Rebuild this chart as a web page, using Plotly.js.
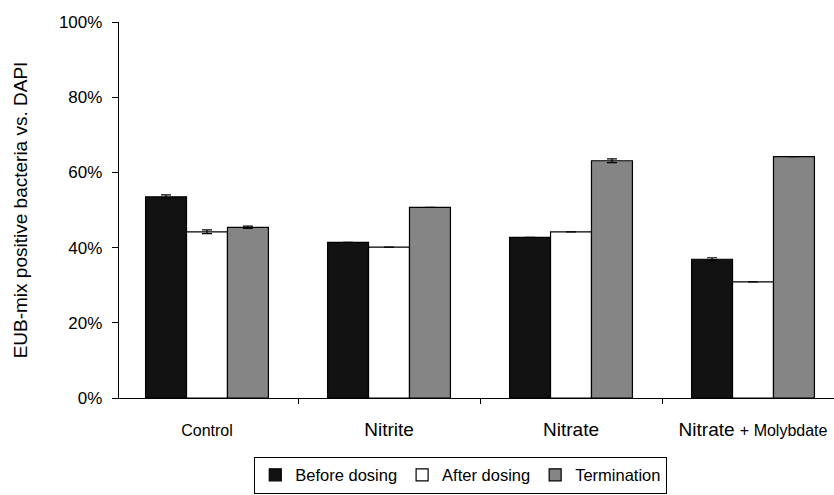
<!DOCTYPE html>
<html>
<head>
<meta charset="utf-8">
<script src="https://cdn.plot.ly/plotly-3.0.1.min.js"></script>
<style>html,body{margin:0;padding:0;background:#fff;}#chart{width:834px;height:495px;}</style>
</head>
<body>
<div id="chart"></div>
<script>
var categories = ["Control", "Nitrite", "Nitrate", "Nitrate + Molybdate"];
var tickLabels = [
  "<span style='font-size:16px'>Control</span>",
  "Nitrite",
  "Nitrate",
  "Nitrate <span style='font-size:16px'>+ Molybdate</span>"
];
var seriesNames = ["Before dosing", "After dosing", "Termination"];
var beforeDosing = [53.5, 41.4, 42.7, 36.9];
var afterDosing = [44.2, 40.1, 44.2, 30.9];
var termination = [45.4, 50.7, 63.1, 64.2];
var errBefore = [0.5, 0, 0, 0.4];
var errAfter = [0.5, 0, 0, 0];
var errTermination = [0.3, 0, 0.5, 0];
var yTickVals = [0, 20, 40, 60, 80, 100];
var yTickLabels = ["0%", "20%", "40%", "60%", "80%", "100%"];

var colors = ["#121212", "#ffffff", "#858585"];
var vals = [beforeDosing, afterDosing, termination];
var errs = [errBefore, errAfter, errTermination];

var traces = vals.map(function (v, i) {
  return {
    type: "bar",
    name: seriesNames[i],
    x: categories,
    y: v,
    marker: {color: colors[i], line: {color: "#000", width: 1.2}},
    error_y: {type: "data", array: errs[i], visible: true, color: "#000", thickness: 1.2, width: 5}
  };
});

var layout = {
  width: 834,
  height: 495,
  margin: {l: 119, r: 0, t: 22, b: 97},
  paper_bgcolor: "#fff",
  plot_bgcolor: "#fff",
  barmode: "group",
  bargap: 0.325,
  bargroupgap: 0,
  font: {family: "Liberation Sans, Arial, sans-serif", color: "#000", size: 16},
  xaxis: {
    type: "category",
    range: [-0.4835, 3.445],
    tickmode: "array",
    tickvals: categories,
    ticktext: tickLabels,
    tickson: "boundaries",
    ticks: "outside",
    ticklen: 5,
    tickcolor: "#000",
    showline: true,
    linecolor: "#000",
    linewidth: 1.2,
    showgrid: false,
    zeroline: false,
    tickfont: {size: 19, family: "Liberation Sans, Arial, sans-serif"},
    ticklabelstandoff: 14,
    automargin: false
  },
  yaxis: {
    range: [0, 100],
    tickmode: "array",
    tickvals: yTickVals,
    ticktext: yTickLabels,
    ticks: "outside",
    ticklen: 6,
    tickcolor: "#000",
    showline: true,
    linecolor: "#000",
    linewidth: 1.2,
    showgrid: false,
    zeroline: false,
    tickfont: {size: 17},
    ticklabelstandoff: 6,
    title: {text: "EUB-mix positive bacteria vs. DAPI", font: {size: 19}, standoff: 26},
    automargin: true
  },
  showlegend: true,
  legend: {
    orientation: "h",
    x: 0.478,
    xanchor: "center",
    y: -0.205,
    yanchor: "middle",
    bordercolor: "#000",
    borderwidth: 1,
    bgcolor: "#fff",
    font: {size: 16.5},
    itemwidth: 30,
    tracegroupgap: 0
  }
};

Plotly.newPlot("chart", traces, layout, {displayModeBar: false, staticPlot: true});
</script>
</body>
</html>
